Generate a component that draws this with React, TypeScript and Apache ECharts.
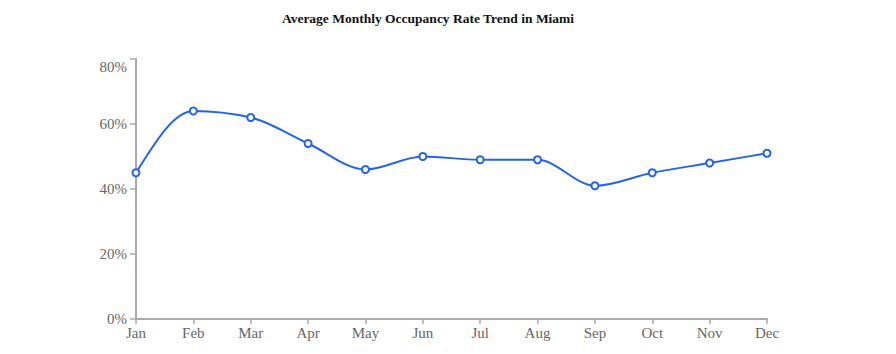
import React, { useEffect, useRef } from "react";
import * as echarts from "echarts";

const months = ["Jan", "Feb", "Mar", "Apr", "May", "Jun", "Jul", "Aug", "Sep", "Oct", "Nov", "Dec"];
const occupancy = [45, 64, 62, 54, 46, 50, 49, 49, 41, 45, 48, 51];
const titleText = "Average Monthly Occupancy Rate Trend in Miami";
const lineColor = "#2563eb";

function sign(v: number) {
  return v < 0 ? -1 : 1;
}

// monotone-x tangents (as in d3.curveMonotoneX) on pixel points
function tangents(pts: number[][]) {
  const n = pts.length;
  const t: number[] = new Array(n).fill(0);
  for (let i = 1; i < n - 1; i++) {
    const [x0, y0] = pts[i - 1];
    const [x1, y1] = pts[i];
    const [x2, y2] = pts[i + 1];
    const h0 = x1 - x0;
    const h1 = x2 - x1;
    const s0 = (y1 - y0) / h0;
    const s1 = (y2 - y1) / h1;
    const p = (s0 * h1 + s1 * h0) / (h0 + h1);
    t[i] = (sign(s0) + sign(s1)) * Math.min(Math.abs(s0), Math.abs(s1), 0.5 * Math.abs(p)) || 0;
  }
  if (n > 1) {
    const h0 = pts[1][0] - pts[0][0];
    t[0] = h0 ? (3 * (pts[1][1] - pts[0][1]) / h0 - t[1]) / 2 : t[1];
    const hn = pts[n - 1][0] - pts[n - 2][0];
    t[n - 1] = hn ? (3 * (pts[n - 1][1] - pts[n - 2][1]) / hn - t[n - 2]) / 2 : t[n - 2];
  }
  return t;
}

export default function App() {
  const ref = useRef<HTMLDivElement>(null);
  useEffect(() => {
    if (!ref.current) return;
    const chart = echarts.init(ref.current, null, { renderer: "svg" });
    const font = "'Liberation Serif', serif";
    chart.setOption({
      animation: false,
      title: {
        text: titleText,
        left: 415,
        top: -2,
        textAlign: "center",
        textStyle: { fontFamily: font, fontSize: 13.5, fontWeight: "bold", color: "#111" },
      },
      grid: { left: 128, right: 121, top: 51, bottom: 27 },
      xAxis: {
        type: "category",
        data: months,
        boundaryGap: false,
        axisLine: { lineStyle: { color: "#aaa", width: 2 } },
        axisTick: { alignWithLabel: true, length: 5, lineStyle: { color: "#aaa", width: 1.5 } },
        axisLabel: { fontFamily: font, fontSize: 15, color: "#666", margin: 6 },
        splitLine: { show: false },
      },
      yAxis: {
        type: "value",
        min: 0,
        max: 80,
        interval: 20,
        axisLine: { show: true, lineStyle: { color: "#aaa", width: 2 } },
        axisTick: { show: true, length: 6, lineStyle: { color: "#aaa", width: 1.5 } },
        axisLabel: {
          fontFamily: font,
          fontSize: 15,
          color: "#666",
          margin: 9,
          formatter: "{value}%",
          verticalAlignMaxLabel: "top",
        },
        splitLine: { show: false },
      },
      series: [
        {
          type: "custom",
          data: occupancy.map((v, i) => [i, v]),
          encode: { x: 0, y: 1 },
          z: 2,
          renderItem: (params: any, api: any) => {
            const i = params.dataIndex;
            if (i >= occupancy.length - 1) return null;
            const pts = occupancy.map((v, k) => api.coord([k, v]));
            const t = tangents(pts);
            const [x0, y0] = pts[i];
            const [x1, y1] = pts[i + 1];
            const dx = (x1 - x0) / 3;
            return {
              type: "bezierCurve",
              shape: {
                x1: x0,
                y1: y0,
                cpx1: x0 + dx,
                cpy1: y0 + dx * t[i],
                cpx2: x1 - dx,
                cpy2: y1 - dx * t[i + 1],
                x2: x1,
                y2: y1,
              },
              style: { stroke: lineColor, lineWidth: 2, fill: "none" },
            };
          },
        },
        {
          type: "line",
          data: occupancy,
          z: 3,
          symbol: "circle",
          symbolSize: 7,
          lineStyle: { opacity: 0, width: 0 },
          itemStyle: { color: "#fff", borderColor: lineColor, borderWidth: 2 },
        },
      ],
    });
    return () => chart.dispose();
  }, []);
  return <div ref={ref} style={{ width: 880, height: 338 }} />;
}
